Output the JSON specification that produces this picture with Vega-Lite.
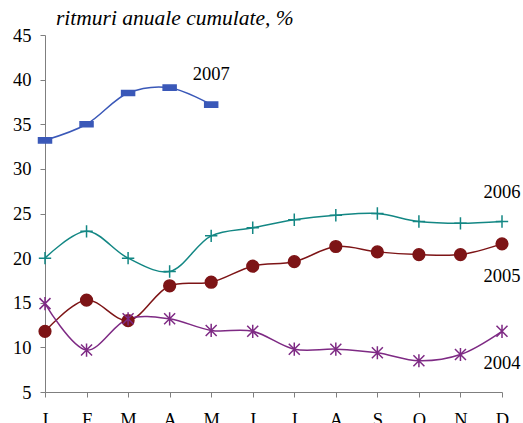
{
  "$schema": "https://vega.github.io/schema/vega-lite/v6.json",
  "width": 457,
  "height": 357,
  "autosize": {"type": "none"},
  "padding": {"left": 45, "top": 35, "right": 21, "bottom": 31},
  "background": "white",
  "title": {
    "text": "ritmuri anuale cumulate, %",
    "anchor": "start",
    "frame": "group",
    "orient": "top",
    "dx": 11,
    "dy": 28,
    "offset": 3,
    "baseline": "bottom",
    "font": "Liberation Serif",
    "fontSize": 21.5,
    "fontStyle": "italic",
    "fontWeight": "normal",
    "color": "black"
  },
  "config": {
    "view": {"stroke": null},
    "axis": {
      "labelFont": "Liberation Serif",
      "labelFontSize": 18.5,
      "labelColor": "black",
      "domainColor": "#7f7f7f",
      "tickColor": "#7f7f7f",
      "tickSize": 5,
      "grid": false,
      "title": null
    }
  },
  "datasets": {
    "serii": [
      {"an": "2007", "m": 1, "v": 33.2},
      {"an": "2007", "m": 2, "v": 35.0},
      {"an": "2007", "m": 3, "v": 38.5},
      {"an": "2007", "m": 4, "v": 39.1},
      {"an": "2007", "m": 5, "v": 37.2},
      {"an": "2006", "m": 1, "v": 20.0},
      {"an": "2006", "m": 2, "v": 23.0},
      {"an": "2006", "m": 3, "v": 20.0},
      {"an": "2006", "m": 4, "v": 18.5},
      {"an": "2006", "m": 5, "v": 22.5},
      {"an": "2006", "m": 6, "v": 23.4},
      {"an": "2006", "m": 7, "v": 24.3},
      {"an": "2006", "m": 8, "v": 24.8},
      {"an": "2006", "m": 9, "v": 25.0},
      {"an": "2006", "m": 10, "v": 24.1},
      {"an": "2006", "m": 11, "v": 23.9},
      {"an": "2006", "m": 12, "v": 24.1},
      {"an": "2005", "m": 1, "v": 11.8},
      {"an": "2005", "m": 2, "v": 15.3},
      {"an": "2005", "m": 3, "v": 13.0},
      {"an": "2005", "m": 4, "v": 16.9},
      {"an": "2005", "m": 5, "v": 17.3},
      {"an": "2005", "m": 6, "v": 19.1},
      {"an": "2005", "m": 7, "v": 19.6},
      {"an": "2005", "m": 8, "v": 21.3},
      {"an": "2005", "m": 9, "v": 20.7},
      {"an": "2005", "m": 10, "v": 20.4},
      {"an": "2005", "m": 11, "v": 20.4},
      {"an": "2005", "m": 12, "v": 21.6},
      {"an": "2004", "m": 1, "v": 14.9},
      {"an": "2004", "m": 2, "v": 9.7},
      {"an": "2004", "m": 3, "v": 13.2},
      {"an": "2004", "m": 4, "v": 13.2},
      {"an": "2004", "m": 5, "v": 11.9},
      {"an": "2004", "m": 6, "v": 11.8},
      {"an": "2004", "m": 7, "v": 9.8},
      {"an": "2004", "m": 8, "v": 9.8},
      {"an": "2004", "m": 9, "v": 9.4},
      {"an": "2004", "m": 10, "v": 8.5},
      {"an": "2004", "m": 11, "v": 9.2},
      {"an": "2004", "m": 12, "v": 11.8}
    ],
    "etichete": [
      {"an": "2007", "m": 5, "v": 40.6},
      {"an": "2006", "m": 12, "v": 27.4},
      {"an": "2005", "m": 12, "v": 18.0},
      {"an": "2004", "m": 12, "v": 8.2}
    ]
  },
  "encoding": {
    "x": {
      "field": "m",
      "type": "ordinal",
      "scale": {"type": "point", "padding": 0, "domain": [1, 2, 3, 4, 5, 6, 7, 8, 9, 10, 11, 12]},
      "axis": {
        "labelAngle": 0,
        "labelPadding": 13,
        "labelExpr": "['I','F','M','A','M','I','I','A','S','O','N','D'][datum.value - 1]"
      }
    },
    "y": {
      "field": "v",
      "type": "quantitative",
      "scale": {"domain": [5, 45], "nice": false, "zero": false},
      "axis": {"values": [5, 10, 15, 20, 25, 30, 35, 40, 45], "labelPadding": 9}
    }
  },
  "layer": [
    {
      "data": {"name": "serii"},
      "mark": {"type": "line", "interpolate": "catmull-rom", "strokeWidth": 1.5},
      "encoding": {
        "detail": {"field": "an"},
        "color": {
          "field": "an",
          "type": "nominal",
          "scale": {"domain": ["2004", "2005", "2006", "2007"], "range": ["#7e2a84", "#7d1416", "#138784", "#3a58b8"]},
          "legend": null
        }
      }
    },
    {
      "data": {"name": "serii"},
      "mark": {"type": "point", "strokeWidth": 1.5, "opacity": 1},
      "encoding": {
        "shape": {
          "field": "an",
          "type": "nominal",
          "scale": {
            "domain": ["2004", "2005", "2006", "2007"],
            "range": [
              "M-1,-1L1,1M-1,1L1,-1M0,-1.2V1.2",
              "circle",
              "M-1,0H1M0,-1V1",
              "M-1,-0.4H1V0.4H-1Z"
            ]
          },
          "legend": null
        },
        "size": {
          "field": "an",
          "type": "nominal",
          "scale": {"domain": ["2004", "2005", "2006", "2007"], "range": [121, 169, 144, 56]},
          "legend": null
        },
        "stroke": {
          "field": "an",
          "type": "nominal",
          "scale": {"domain": ["2004", "2005", "2006", "2007"], "range": ["#7e2a84", "#7d1416", "#138784", "#3a58b8"]},
          "legend": null
        },
        "fill": {
          "field": "an",
          "type": "nominal",
          "scale": {"domain": ["2004", "2005", "2006", "2007"], "range": ["transparent", "#7d1416", "transparent", "#3a58b8"]},
          "legend": null
        }
      }
    },
    {
      "data": {"name": "etichete"},
      "mark": {
        "type": "text",
        "font": "Liberation Serif",
        "fontSize": 18.5,
        "align": "center",
        "baseline": "middle",
        "color": "black"
      },
      "encoding": {
        "text": {"field": "an"}
      }
    }
  ]
}
